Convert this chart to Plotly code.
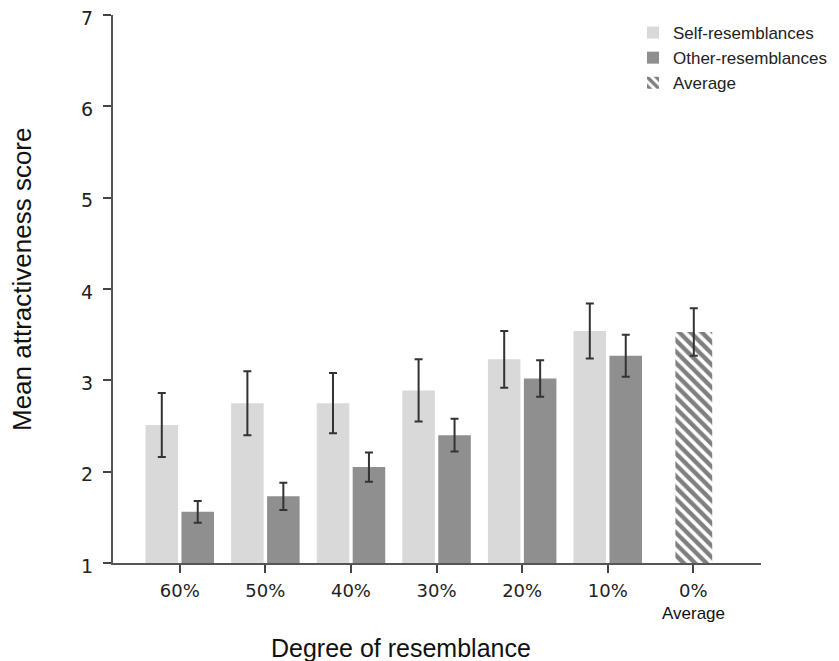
import plotly.graph_objects as go

categories = ["60%", "50%", "40%", "30%", "20%", "10%", "0%"]
self_vals = [2.51, 2.75, 2.75, 2.89, 3.23, 3.54]
self_err = [0.35, 0.35, 0.33, 0.34, 0.31, 0.30]
other_vals = [1.56, 1.73, 2.05, 2.40, 3.02, 3.27]
other_err = [0.12, 0.15, 0.16, 0.18, 0.20, 0.23]
avg_val = [3.53]
avg_err = [0.26]

FONT = "Liberation Sans, Arial, sans-serif"
TICKFONT = "DejaVu Sans, sans-serif"
err_style = dict(type="data", color="#333333", thickness=2, width=4)

# page has an 8px body margin; figure coordinates are shifted accordingly
OFF = 8
W, H = 839 - OFF, 661 - OFF
L, T = 113 - OFF, 15 - OFF
R, B = W - (761 - OFF), H - (563 - OFF)
pw, ph = W - L - R, H - T - B

def px(x):  # reference page pixel -> paper
    return (x - 113) / pw

def py(y):
    return (563 - y) / ph

fig = go.Figure()
fig.add_trace(go.Bar(
    name="Self-resemblances", x=categories[:6], y=[v - 1 for v in self_vals], base=1,
    marker=dict(color="#d9d9d9", line=dict(width=0)),
    offset=-0.40, width=0.38,
    error_y=dict(array=self_err, **err_style),
))
fig.add_trace(go.Bar(
    name="Other-resemblances", x=categories[:6], y=[v - 1 for v in other_vals], base=1,
    marker=dict(color="#8f8f8f", line=dict(width=0)),
    offset=0.02, width=0.38,
    error_y=dict(array=other_err, **err_style),
))
fig.add_trace(go.Bar(
    name="Average", x=categories[6:], y=[v - 1 for v in avg_val], base=1,
    marker=dict(color="white", line=dict(width=0),
                pattern=dict(shape="\\", fgcolor="#000000", bgcolor="white", size=8, solidity=0.55)),
    offset=-0.21, width=0.43,
    error_y=dict(array=avg_err, **err_style),
))

fig.update_layout(
    width=W, height=H,
    margin=dict(l=L, r=R, t=T, b=B, autoexpand=False),
    plot_bgcolor="white", paper_bgcolor="white",
    barmode="overlay",
    font=dict(family=FONT, color="#333333"),
    showlegend=True,
    legend=dict(x=px(633), y=py(15), xanchor="left", yanchor="top",
                xref="paper", yref="paper",
                font=dict(size=17, color="#222222", family=FONT), itemwidth=30,
                tracegroupgap=0, bgcolor="rgba(0,0,0,0)"),
    xaxis=dict(type="category", categoryorder="array", categoryarray=categories,
               range=[-0.78, 6.79], showline=True, linecolor="#555555", linewidth=2,
               ticks="outside", ticklen=8, tickwidth=2, tickcolor="#444444",
               tickfont=dict(size=18, color="#222222", family=TICKFONT),
               ticklabelstandoff=2, ticklabeloverflow="allow",
               showgrid=False, zeroline=False),
    yaxis=dict(range=[1, 7], tickvals=[1, 2, 3, 4, 5, 6, 7],
               showline=True, linecolor="#555555", linewidth=2,
               ticks="outside", ticklen=8, tickwidth=2, tickcolor="#444444",
               tickfont=dict(size=19, color="#222222", family=TICKFONT),
               ticklabelstandoff=6, ticklabelshift=3, ticklabeloverflow="allow",
               showgrid=False, zeroline=False),
    annotations=[
        dict(text="Average", x="0%", xref="x", y=py(613), yref="paper",
             showarrow=False, font=dict(size=17, color="#111111", family=FONT),
             xanchor="center", yanchor="middle"),
        dict(text="Degree of resemblance", x=px(401), xref="paper", y=py(648), yref="paper",
             showarrow=False, font=dict(size=25, color="#111111", family=FONT),
             xanchor="center", yanchor="middle"),
        dict(text="Mean attractiveness score", x=px(22), xref="paper", y=py(280), yref="paper",
             textangle=-90, showarrow=False,
             font=dict(size=26, color="#111111", family=FONT),
             xanchor="center", yanchor="middle"),
    ],
)

fig.write_html("out.html")
